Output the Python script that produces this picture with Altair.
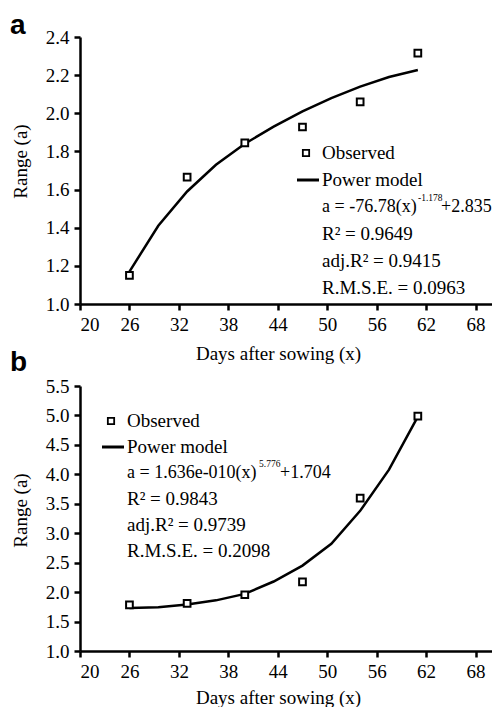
import altair as alt
import pandas as pd

# ---- data ----
days = [26, 33, 40, 47, 54, 61]
obs_a = [1.15, 1.665, 1.845, 1.928, 2.06, 2.315]
obs_b = [1.785, 1.81, 1.955, 2.175, 3.595, 4.99]
fit_days = [26, 29.5, 33, 36.5, 40, 43.5, 47, 50.5, 54, 57.5, 61]
fit_a = [1.17, 1.41, 1.59, 1.73, 1.84, 1.93, 2.01, 2.08, 2.14, 2.19, 2.227]
fit_b = [1.73, 1.745, 1.79, 1.86, 1.97, 2.18, 2.45, 2.82, 3.38, 4.08, 4.98]
x_ticks = [20, 26, 32, 38, 44, 50, 56, 62, 68]
y_ticks_a = [1.0, 1.2, 1.4, 1.6, 1.8, 2.0, 2.2, 2.4]
y_ticks_b = [1.0, 1.5, 2.0, 2.5, 3.0, 3.5, 4.0, 4.5, 5.0, 5.5]

leg_obs = "Observed"
leg_fit = "Power model"
eq_a = ["a = -76.78(x)", "-1.178", "+2.835"]
eq_b = ["a = 1.636e-010(x)", "5.776", "+1.704"]
stats_a = ["R² = 0.9649", "adj.R² = 0.9415", "R.M.S.E. = 0.0963"]
stats_b = ["R² = 0.9843", "adj.R² = 0.9739", "R.M.S.E. = 0.2098"]
letters = ["a", "b"]

FONT = "Liberation Serif"
FS = 19
FS_EQ = 18
W = 412


def axis(vals, title, fmt):
    return alt.Axis(values=vals, title=title, format=fmt, grid=False,
                    domainColor="black", domainWidth=2.5, tickColor="black",
                    tickWidth=2.5, tickSize=6, labelFont=FONT, labelFontSize=FS,
                    labelColor="black", titleFont=FONT, titleFontSize=FS,
                    titleFontWeight="normal", titleColor="black", labelPadding=5)


def letter_layer(t, y, baseline):
    return alt.Chart(pd.DataFrame({"t": [t]})).mark_text(
        align="left", baseline=baseline, font="Liberation Sans", fontSize=28,
        fontWeight="bold", color="black").encode(
        x=alt.value(-70), y=alt.value(y), text="t:N")


def txt(t, x, y, fs):
    return alt.Chart(pd.DataFrame({"t": [t]})).mark_text(
        align="left", baseline="middle", font=FONT, fontSize=fs, color="black").encode(
        x=alt.value(x), y=alt.value(y), text="t:N")


def panel(obs, fit, ydom, yticks, H, eq, stats, lx, ly, eqw, supw, sp, xtp, extra):
    df_obs = pd.DataFrame({"x": days, "y": obs})
    df_fit = pd.DataFrame({"x": fit_days, "y": fit})
    xa = axis(x_ticks, "Days after sowing (x)", "d")
    xa.titlePadding = xtp
    xa.titleX = 198
    ya = axis(yticks, "Range (a)", ".1f")
    ya.titlePadding = 15
    ya.titleY = 124
    xs = alt.X("x:Q", scale=alt.Scale(domain=[20, 70], nice=False, zero=False), axis=xa)
    ys = alt.Y("y:Q", scale=alt.Scale(domain=ydom, nice=False, zero=False), axis=ya)
    line = alt.Chart(df_fit).mark_line(color="black", strokeWidth=2.5).encode(x=xs, y=ys)
    pts = alt.Chart(df_obs).mark_point(shape="square", size=45, filled=False,
                                       color="black", strokeWidth=2,
                                       fill="white", fillOpacity=1).encode(x=xs, y=ys)
    layers = [line, pts]
    layers.append(alt.Chart(pd.DataFrame({"t": [leg_obs]})).mark_point(
        shape="square", size=40, filled=False, color="black", strokeWidth=1.8,
        fill="white", fillOpacity=1).encode(x=alt.value(lx - 16), y=alt.value(ly)))
    layers.append(alt.Chart(pd.DataFrame({"t": [leg_fit]})).mark_rule(
        color="black", strokeWidth=3).encode(
        x=alt.value(lx - 25), x2=alt.value(lx - 3), y=alt.value(ly + sp)))
    layers.append(txt(leg_obs, lx, ly, FS))
    layers.append(txt(leg_fit, lx, ly + sp, FS))
    ey = ly + 2 * sp
    layers.append(txt(eq[0], lx, ey, FS_EQ))
    layers.append(txt(eq[1], lx + eqw + 1, ey - 9, 9.5))
    layers.append(txt(eq[2], lx + eqw + supw, ey, FS_EQ))
    for i, t in enumerate(stats):
        layers.append(txt(t, lx, ey + (i + 1) * sp, FS))
    layers += extra
    return alt.layer(*layers).properties(width=W, height=H)


pa = panel(obs_a, fit_a, [1.0, 2.4], y_ticks_a, 267, eq_a, stats_a,
           242, 116, 95, 24, 27, 10,
           [letter_layer(letters[0], -25, "top"),
            letter_layer(letters[1], 334, "alphabetic")])
pb = panel(obs_b, fit_b, [1.0, 5.5], y_ticks_b, 265, eq_b, stats_b,
           47, 35, 131, 22, 26, 7, [])

chart = alt.vconcat(pa, pb, spacing=0).properties(
    padding={"left": 2, "top": 4, "right": 0, "bottom": 0}
).configure_view(stroke=None)

chart.save("out.html", embed_options={"renderer": "svg", "actions": False})
